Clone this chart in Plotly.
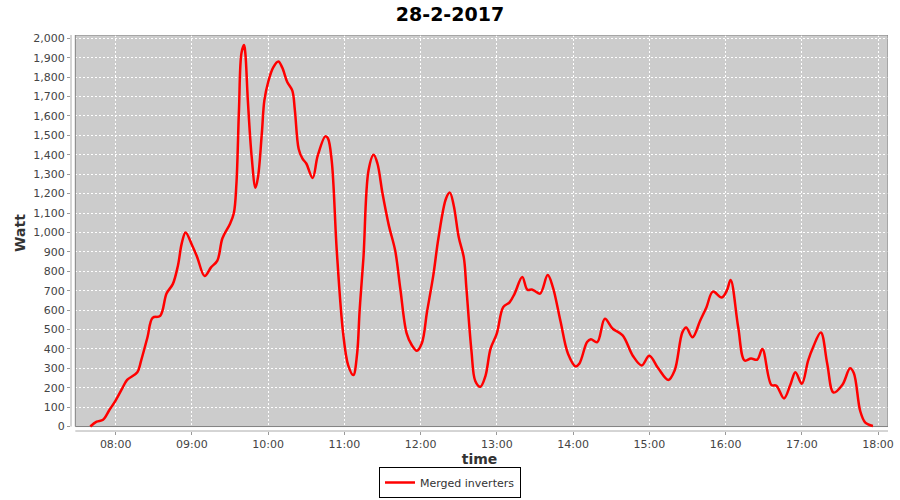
import plotly.graph_objects as go

DAY = "2017-02-28"

times = [
    "07:40", "07:45", "07:50", "07:55", "08:00", "08:05", "08:09", "08:17", "08:20", "08:25",
    "08:29", "08:35", "08:40", "08:45", "08:49", "08:52", "08:55", "09:00", "09:04", "09:10",
    "09:15", "09:20", "09:24", "09:30", "09:33", "09:35", "09:37", "09:39", "09:41", "09:42",
    "09:44", "09:47", "09:50", "09:52", "09:55", "09:57", "10:00", "10:04", "10:08", "10:11",
    "10:15", "10:19", "10:21", "10:24", "10:27", "10:30", "10:35", "10:39", "10:45", "10:47",
    "10:50", "10:54", "10:59", "11:03", "11:07", "11:10", "11:12", "11:15", "11:19", "11:23",
    "11:26", "11:30", "11:35", "11:40", "11:44", "11:49", "11:53", "11:57", "12:01", "12:05",
    "12:10", "12:14", "12:20", "12:23", "12:26", "12:30", "12:34", "12:36", "12:40", "12:43",
    "12:47", "12:51", "12:55", "13:00", "13:05", "13:10", "13:14", "13:20", "13:24", "13:28",
    "13:34", "13:40", "13:44", "13:50", "13:56", "14:02", "14:05", "14:11", "14:14", "14:19",
    "14:25", "14:31", "14:39", "14:47", "14:54", "15:00", "15:07", "15:15", "15:20", "15:26",
    "15:29", "15:34", "15:40", "15:45", "15:50", "15:57", "16:01", "16:04", "16:10", "16:15",
    "16:20", "16:25", "16:29", "16:36", "16:40", "16:46", "16:51", "16:55", "17:00", "17:05",
    "17:09", "17:15", "17:20", "17:25", "17:32", "17:38", "17:41", "17:46", "17:50", "17:56",
]
watts = [
    0, 25, 35, 85, 135, 195, 240, 280, 340, 460,
    560, 570, 685, 735, 830, 945, 1000, 935, 875, 775,
    820, 855, 970, 1045, 1100, 1250, 1630, 1925, 1965, 1925,
    1680, 1390, 1230, 1285, 1510, 1680, 1775, 1850, 1880, 1850,
    1775, 1730, 1630, 1430, 1380, 1355, 1280, 1395, 1495, 1485,
    1370, 905, 480, 315, 265, 375, 600, 870, 1320, 1400,
    1355, 1200, 1035, 905, 710, 480, 420, 390, 430, 590,
    780, 970, 1175, 1205, 1140, 975, 870, 715, 390, 235,
    205, 260, 400, 480, 615, 640, 685, 770, 705, 705,
    685, 780, 720, 545, 375, 310, 325, 435, 450, 435,
    555, 505, 470, 365, 315, 365, 300, 240, 290, 485,
    510, 460, 545, 615, 695, 665, 700, 755, 510, 340,
    350, 345, 400, 215, 210, 145, 215, 280, 220, 340,
    410, 485, 325, 175, 215, 300, 275, 80, 20, 3,
]

title_text = "28-2-2017"
series_name = "Merged inverters"
x_title = "time"
y_title = "Watt"

x_vals = [f"{DAY} {t}" for t in times]

# plot window (data units)
X_AXIS_START = f"{DAY} 07:24:48"
PLOT_LEFT = f"{DAY} 07:28:12"
PLOT_RIGHT = f"{DAY} 18:07:52"
Y_BOTTOM = -23
Y_TOP = 2017

FONT = "DejaVu Sans"
TICK_COLOR = "#444444"

fig = go.Figure()
fig.add_trace(go.Scatter(
    x=x_vals, y=watts, mode="lines", name=series_name,
    line=dict(color="#FF0000", width=2.5, shape="spline", smoothing=1.0),
))

fig.update_layout(
    width=900, height=500,
    margin=dict(l=71, r=12, t=35, b=69),
    paper_bgcolor="white", plot_bgcolor="white",
    font=dict(family=FONT, size=11, color=TICK_COLOR),
    title=dict(text=f"<b>{title_text}</b>", x=0.5, xref="container", xanchor="center",
               y=0.972, yref="container", yanchor="middle",
               font=dict(family=FONT, size=19, color="black")),
    showlegend=True,
    legend=dict(orientation="h", x=0.5, xref="container", xanchor="center",
                y=0.004, yref="container", yanchor="bottom",
                bordercolor="black", borderwidth=1, bgcolor="white",
                font=dict(family=FONT, size=11, color="#333333"),
                itemwidth=30, tracegroupgap=0),
    xaxis=dict(
        type="date", range=[X_AXIS_START, PLOT_RIGHT], automargin=False,
        tickformat="%H:%M", dtick=3600000, tick0=f"{DAY} 08:00",
        showgrid=True, gridcolor="white", griddash="2px,2px", gridwidth=1,
        zeroline=False, showline=False,
        ticks="outside", ticklen=3, tickcolor="#999999",
        tickfont=dict(family=FONT, size=11, color=TICK_COLOR),
        title=dict(text=f"<b>{x_title}</b>", standoff=6,
                   font=dict(family=FONT, size=14, color="#333333")),
    ),
    yaxis=dict(
        range=[Y_BOTTOM, Y_TOP], dtick=100, tick0=0, tickformat=",d", automargin=False,
        showgrid=True, gridcolor="white", griddash="2px,2px", gridwidth=1,
        zeroline=False, showline=False,
        ticks="outside", ticklen=3, tickcolor="#999999",
        tickfont=dict(family=FONT, size=11, color=TICK_COLOR),
        title=dict(text=f"<b>{y_title}</b>", standoff=4,
                   font=dict(family=FONT, size=14, color="#333333")),
    ),
    shapes=[
        dict(type="rect", xref="x", yref="y", x0=PLOT_LEFT, x1=PLOT_RIGHT, y0=0, y1=Y_TOP,
             fillcolor="#CCCCCC", line=dict(width=0), layer="below"),
        dict(type="rect", xref="x", yref="y", x0=PLOT_LEFT, x1=PLOT_RIGHT, y0=0, y1=Y_TOP,
             fillcolor="rgba(0,0,0,0)", line=dict(color="#808080", width=1), layer="between"),
        dict(type="line", xref="paper", yref="y", x0=0, x1=0, y0=0, y1=Y_TOP,
             line=dict(color="#AAAAAA", width=1), layer="above"),
        dict(type="line", xref="x", yref="paper", x0=PLOT_LEFT, x1=PLOT_RIGHT, y0=0, y1=0,
             line=dict(color="#AAAAAA", width=1), layer="above"),
    ],
)

fig.write_html(
    "out.html",
    config={"displayModeBar": False},
    post_script="document.body.style.margin='0';document.body.style.padding='0';",
)
